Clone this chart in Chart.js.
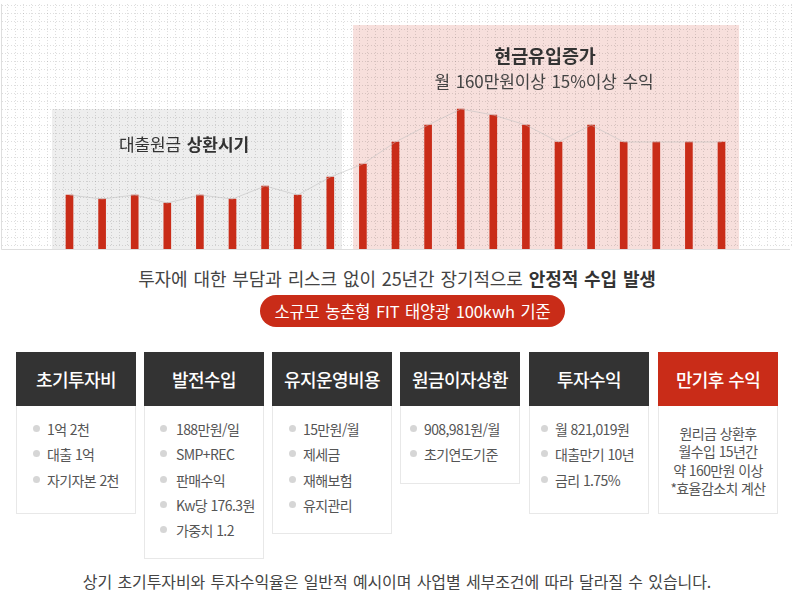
<!DOCTYPE html>
<html lang="ko">
<head>
<meta charset="utf-8">
<title>투자 수익 구조</title>
<script src="https://cdn.jsdelivr.net/npm/chart.js@4/dist/chart.umd.min.js"></script>
<style>
  html, body { margin:0; padding:0; background:#fff; }
  body { width:794px; height:601px; position:relative; overflow:hidden; font-family:"Noto Sans CJK KR","Noto Sans",sans-serif; color:#333; letter-spacing:-0.6px; }
  #chart-wrap { position:absolute; left:0; top:0; width:794px; height:250px; }
  #chart { display:block; }
  .label { position:absolute; white-space:nowrap; transform:translate(-50%,-50%); line-height:1; letter-spacing:-0.1px; word-spacing:1px; }
  .pill { position:absolute; left:260px; top:295px; width:305px; height:32px; line-height:32px; border-radius:16px; background:#c92c18; color:#fff; text-align:center; font-size:16.5px; letter-spacing:-0.1px; word-spacing:1px; }
  .box { position:absolute; top:352px; width:120px; box-sizing:border-box; }
  .box h3 { margin:0; height:54px; line-height:54px; background:#333; color:#fff; text-align:center; font-size:18px; font-weight:500; }
  .box.red h3 { background:#c92c18; }
  .box .body { position:absolute; left:0; right:0; top:54px; bottom:0; box-sizing:border-box; border:1px solid #e8e8e8; border-top:0; }
  .box .row { position:absolute; white-space:nowrap; font-size:14px; line-height:20px; color:#555; }
  .box .dot { position:absolute; width:7px; height:7px; border-radius:50%; background:#d6d6d6; }
  .box .center { position:absolute; left:0; right:0; top:18px; text-align:center; font-size:14px; line-height:18.3px; color:#555; }
</style>
</head>
<body>
<div id="chart-wrap"><canvas id="chart" width="794" height="250"></canvas></div>

<div class="label" style="left:184px; top:143px; font-size:17px;">대출원금 <b style="font-weight:700">상환시기</b></div>
<div class="label" style="left:545px; top:55px; font-size:18.5px; font-weight:700;">현금유입증가</div>
<div class="label" style="left:544px; top:80px; font-size:17px; color:#444;">월 160만원이상 15%이상 수익</div>
<div class="label" style="left:397px; top:278px; font-size:18px; color:#444;">투자에 대한 부담과 리스크 없이 25년간 장기적으로 <b style="font-weight:700; color:#333">안정적 수입 발생</b></div>
<div class="pill">소규모 농촌형 FIT 태양광 100kwh 기준</div>
<div id="boxes"></div>
<div class="label" style="left:397px; top:581px; font-size:16px; color:#444;">상기 초기투자비와 투자수익율은 일반적 예시이며 사업별 세부조건에 따라 달라질 수 있습니다.</div>

<script>
// chart data
const years = ['1','2','3','4','5','6','7','8','9','10','11','12','13','14','15','16','17','18','19','20','21'];
const income = [54, 50, 54, 46, 54, 50, 63, 54, 72, 85, 107, 124, 140, 134, 124, 107, 124, 107, 107, 107, 107];

// shaded periods: first/last category and the height they reach
const loanPeriod = ['1', '9', 140];
const cashPeriod = ['10', '21', 224];

// cards under the chart
const cardTitles = ['초기투자비', '발전수입', '유지운영비용', '원금이자상환', '투자수익', '만기후 수익'];
const cardLists = [
  ['1억 2천', '대출 1억', '자기자본 2천'],
  ['188만원/일', 'SMP+REC', '판매수익', 'Kw당 176.3원', '가중치 1.2'],
  ['15만원/월', '제세금', '재해보험', '유지관리'],
  ['908,981원/월', '초기연도기준'],
  ['월 821,019원', '대출만기 10년', '금리 1.75%'],
  ['원리금 상환후', '월수입 15년간', '약 160만원 이상', '*효율감소치 계산']
];
const cardLeft = [16, 144, 272, 400, 529, 658];
const cardBottom = [514, 559, 534, 484, 514, 514];
const cardIndent = [16, 15, 16, 9, 11, 0];

const RED = '#c92c18';

// shaded bands, dotted paper grid and the two axis rules sit behind the bars
const backdrop = {
  id: 'backdrop',
  beforeDatasetsDraw(chart) {
    const { ctx, scales: { x, y }, width } = chart;
    const step = x.getPixelForValue(1) - x.getPixelForValue(0);
    const band = (p, color, pad) => {
      const left = x.getPixelForValue(years.indexOf(p[0])) - pad[0];
      const right = x.getPixelForValue(years.indexOf(p[1])) + pad[1];
      ctx.fillStyle = color;
      ctx.fillRect(left, y.getPixelForValue(p[2]), right - left, y.getPixelForValue(0) - y.getPixelForValue(p[2]));
    };
    ctx.save();
    band(loanPeriod, '#eeeeee', [step * 0.54, step * 0.36]);
    band(cashPeriod, '#f7dfdc', [step * 0.3, step * 0.54]);

    ctx.strokeStyle = 'rgba(0,0,0,0.13)';
    ctx.lineWidth = 1;
    ctx.setLineDash([1, 2]);
    ctx.beginPath();
    for (let py = 5.5; py < 248; py += 8) { ctx.moveTo(2, py); ctx.lineTo(width - 2, py); }
    for (let px = 7.5; px < width - 1; px += 8) { ctx.moveTo(px, 4); ctx.lineTo(px, 247); }
    ctx.stroke();

    ctx.setLineDash([]);
    ctx.strokeStyle = '#dedede';
    ctx.beginPath();
    ctx.moveTo(1.5, 4); ctx.lineTo(1.5, 249.5); ctx.lineTo(width - 4, 249.5);
    ctx.stroke();
    ctx.restore();
  }
};

new Chart(document.getElementById('chart'), {
  data: {
    labels: years,
    datasets: [
      { type: 'bar', data: income, backgroundColor: RED, barThickness: 7, order: 2 },
      { type: 'line', data: income, borderColor: 'rgba(190,190,190,0.55)', borderWidth: 1, pointRadius: 0, tension: 0, order: 1 }
    ]
  },
  options: {
    responsive: false,
    devicePixelRatio: 1,
    animation: false,
    layout: { padding: { left: 53.2, right: 56.2, top: 0, bottom: 1 } },
    plugins: { legend: { display: false }, tooltip: { enabled: false } },
    scales: {
      x: { display: false },
      y: { display: false, min: 0, max: 249 }
    }
  },
  plugins: [backdrop]
});

// cards
const boxes = document.getElementById('boxes');
cardTitles.forEach((title, i) => {
  const box = document.createElement('div');
  box.className = 'box' + (i === 5 ? ' red' : '');
  box.style.left = cardLeft[i] + 'px';
  box.style.height = (cardBottom[i] - 352) + 'px';
  let inner = `<h3>${title}</h3><div class="body">`;
  if (i === 5) {
    inner += `<div class="center">${cardLists[i].join('<br>')}</div>`;
  } else {
    cardLists[i].forEach((item, r) => {
      const top = 14 + r * 25.3;
      inner += `<span class="dot" style="left:${cardIndent[i]}px; top:${top + 5}px"></span>`;
      inner += `<span class="row" style="left:${cardLeft[i] === 144 ? 31 : cardIndent[i] + 14}px; top:${top - 1}px">${item}</span>`;
    });
  }
  box.innerHTML = inner + '</div>';
  boxes.appendChild(box);
});
</script>
</body>
</html>
